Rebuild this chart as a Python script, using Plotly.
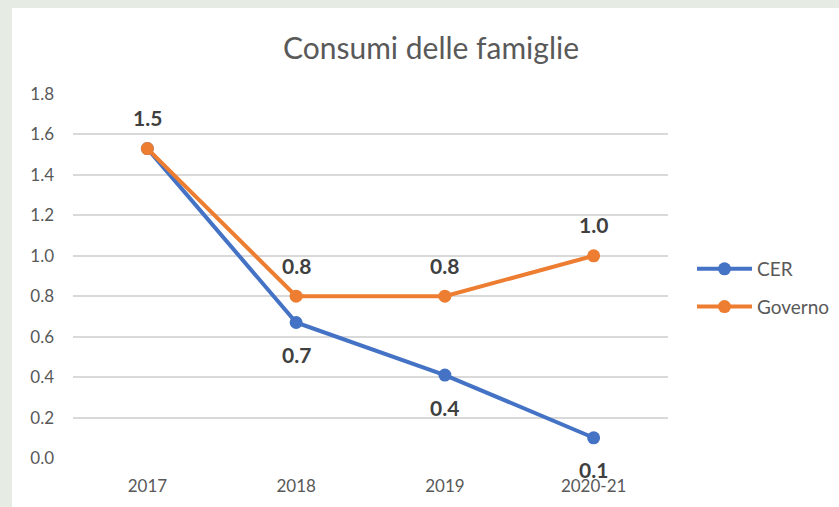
import plotly.graph_objects as go

categories = ["2017", "2018", "2019", "2020-21"]
cer = [1.53, 0.67, 0.41, 0.10]
governo = [1.53, 0.80, 0.80, 1.00]
cer_labels = ["", "0.7", "0.4", "0.1"]
gov_labels = ["1.5", "0.8", "0.8", "1.0"]

BLUE = "#4472C4"
ORANGE = "#ED7D31"
FONT = "Lato"

fig = go.Figure()
fig.add_trace(go.Scatter(x=categories, y=cer, name="CER", mode="lines+markers",
                         line=dict(color=BLUE, width=4), marker=dict(size=13, color=BLUE),
                         legendgroup="a"))
fig.add_trace(go.Scatter(x=categories, y=governo, name="Governo", mode="lines+markers",
                         line=dict(color=ORANGE, width=4), marker=dict(size=13, color=ORANGE),
                         legendgroup="b"))

label_font = dict(size=21, color="#404040", family=FONT, weight="bold")
annotations = []
for i, (v, t) in enumerate(zip(cer, cer_labels)):
    if t:
        annotations.append(dict(x=i, y=v, text=t, showarrow=False, yshift=-32, font=label_font))
for i, (v, t) in enumerate(zip(governo, gov_labels)):
    annotations.append(dict(x=i, y=v, text=t, showarrow=False, yshift=31, font=label_font))

fig.update_layout(
    width=839, height=507,
    margin=dict(l=73, r=171, t=94, b=49, autoexpand=False),
    paper_bgcolor="#E6ECE4",
    plot_bgcolor="rgba(0,0,0,0)",
    font=dict(family=FONT, color="#595959", size=17),
    title=dict(text="Consumi delle famiglie", xref="container", yref="container",
               x=431/839, y=1-48/507, xanchor="center", yanchor="middle",
               font=dict(size=30, color="#595959", family=FONT)),
    xaxis=dict(type="category", range=[-0.5, 3.5], showgrid=False, zeroline=False, showline=False,
               automargin=False, ticks="", ticklabelstandoff=16,
               tickfont=dict(size=17, color="#595959")),
    yaxis=dict(range=[0, 1.8], dtick=0.2, tickformat=".1f", showgrid=True,
               gridcolor="#D9D9D9", gridwidth=1.6, zeroline=False, showline=False,
               automargin=False, ticks="", ticklabelstandoff=18,
               tickfont=dict(size=17, color="#595959")),
    legend=dict(xref="container", yref="container", x=692/839, y=1-250/507,
                xanchor="left", yanchor="top", tracegroupgap=10, itemwidth=55,
                font=dict(size=19, color="#595959"), bgcolor="rgba(0,0,0,0)"),
    annotations=annotations,
    shapes=[dict(type="rect", xref="paper", yref="paper",
                 x0=(12-73)/595, x1=(839-73)/595, y0=-49/364, y1=(507-8-49)/364,
                 fillcolor="white", line=dict(width=0), layer="below")],
)

fig.write_html("out.html", config={"displayModeBar": False},
               post_script="document.body.style.margin='0px';")
